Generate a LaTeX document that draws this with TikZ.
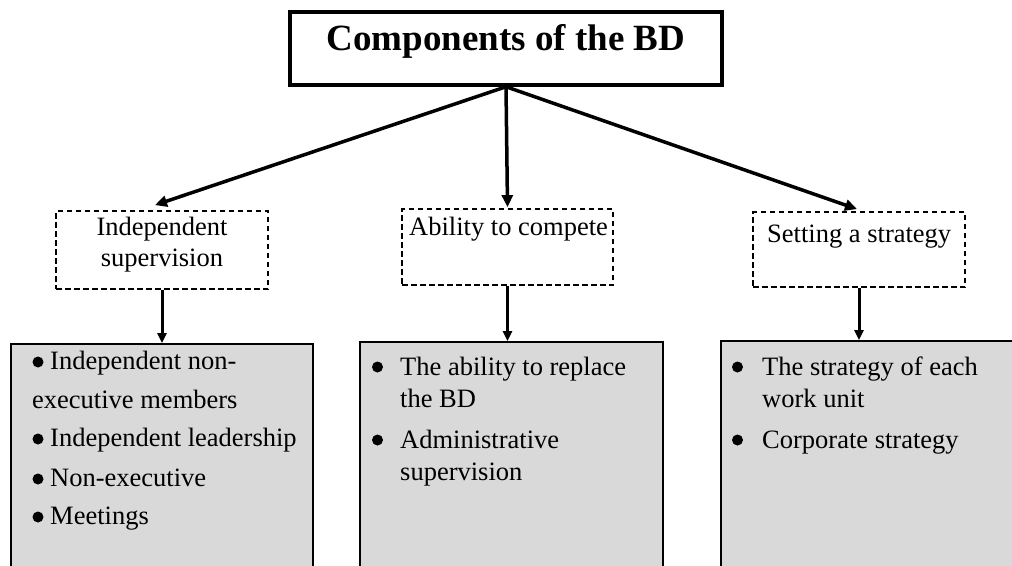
\documentclass[tikz,border=0pt]{standalone}
\usepackage{fontspec}
\setmainfont{Liberation Serif}
\usetikzlibrary{arrows.meta}
\definecolor{boxgray}{HTML}{D9D9D9}
\begin{document}
\begin{tikzpicture}[x=1pt,y=-1pt,
  titlebox/.style={draw,line width=3.5pt,minimum width=432pt,minimum height=73pt,inner sep=0pt},
  groupbox/.style={draw,line width=1.8pt,dash pattern=on 5.5pt off 3.5pt,inner sep=0pt},
  listbox/.style={draw,line width=1.8pt,fill=boxgray,inner sep=0pt},
  body/.style={inner sep=0pt,font=\fontsize{26.5}{32}\selectfont},
  txt/.style={body,anchor=base west},
  ctxt/.style={body,anchor=base},
  dot/.style={circle,fill=black,inner sep=0pt,minimum size=11pt},
  mainarrow/.style={line width=3.5pt,-{Triangle[length=12pt,width=11pt]}},
  subarrow/.style={line width=3pt,-{Triangle[length=10pt,width=9pt]}}
]
\useasboundingbox (0,0) rectangle (1012,565);
\clip (0,0) rectangle (1012,565);

% title
\node[titlebox] (top) at (506,48.5) {};
\node[inner sep=0pt,anchor=base,font=\fontsize{37}{44}\selectfont\bfseries] (toptext) at (506,50) {Components of the BD};

% the three components
\node[groupbox,minimum width=212pt,minimum height=78pt] (ind) at (162,250) {};
\node[groupbox,minimum width=211pt,minimum height=76pt] (comp) at (507.5,247) {};
\node[groupbox,minimum width=212pt,minimum height=75pt] (strat) at (859,249.5) {};

\node[ctxt] (indA) at (162,235) {Independent};
\node[ctxt] (indB) at (162,266) {supervision};
\node[txt] (compA) at (409,235) {Ability to compete};
\node[txt] (stratA) at (767,242) {Setting a strategy};

% detail boxes (cut off at the lower edge)
\node[listbox,minimum width=302pt,minimum height=256pt] (lsum) at (162,472) {};
\node[listbox,minimum width=303pt,minimum height=258pt] (msum) at (511.5,471) {};
\node[listbox,minimum width=309pt,minimum height=259pt] (rsum) at (875.5,470.5) {};

% arrows
\draw[mainarrow] (top.south) -- ([xshift=-7pt,yshift=5pt]ind.north);
\draw[mainarrow] (top.south) -- ([yshift=1pt]comp.north);
\draw[mainarrow] (top.south) -- ([xshift=-2pt,yshift=2pt]strat.north);
\draw[subarrow] (ind.south) -- (ind.south |- lsum.north);
\draw[subarrow] (comp.south) -- (comp.south |- msum.north);
\draw[subarrow] (strat.south) -- (strat.south |- rsum.north);

% left list
\node[dot] (lb1) at (38,362) {};
\node[txt] (l1) at (50,369) {Independent non-};
\node[txt] (l2) at (32,408) {executive members};
\node[dot] (lb2) at (38,439) {};
\node[txt] (l3) at (50,446) {Independent leadership};
\node[dot] (lb3) at (38,479) {};
\node[txt] (l4) at (50,486) {Non-executive};
\node[dot] (lb4) at (38,517) {};
\node[txt] (l5) at (50,524) {Meetings};

% middle list
\node[dot] (mb1) at (377.5,367) {};
\node[txt] (m1) at (400,375) {The ability to replace};
\node[txt] (m2) at (400,407) {the BD};
\node[dot] (mb2) at (377.5,440) {};
\node[txt] (m3) at (400,448) {Administrative};
\node[txt] (m4) at (400,480) {supervision};

% right list
\node[dot] (rb1) at (737.5,367) {};
\node[txt] (r1) at (762,375) {The strategy of each};
\node[txt] (r2) at (762,407) {work unit};
\node[dot] (rb2) at (737.5,440) {};
\node[txt] (r3) at (762,448) {Corporate strategy};
\end{tikzpicture}
\end{document}
